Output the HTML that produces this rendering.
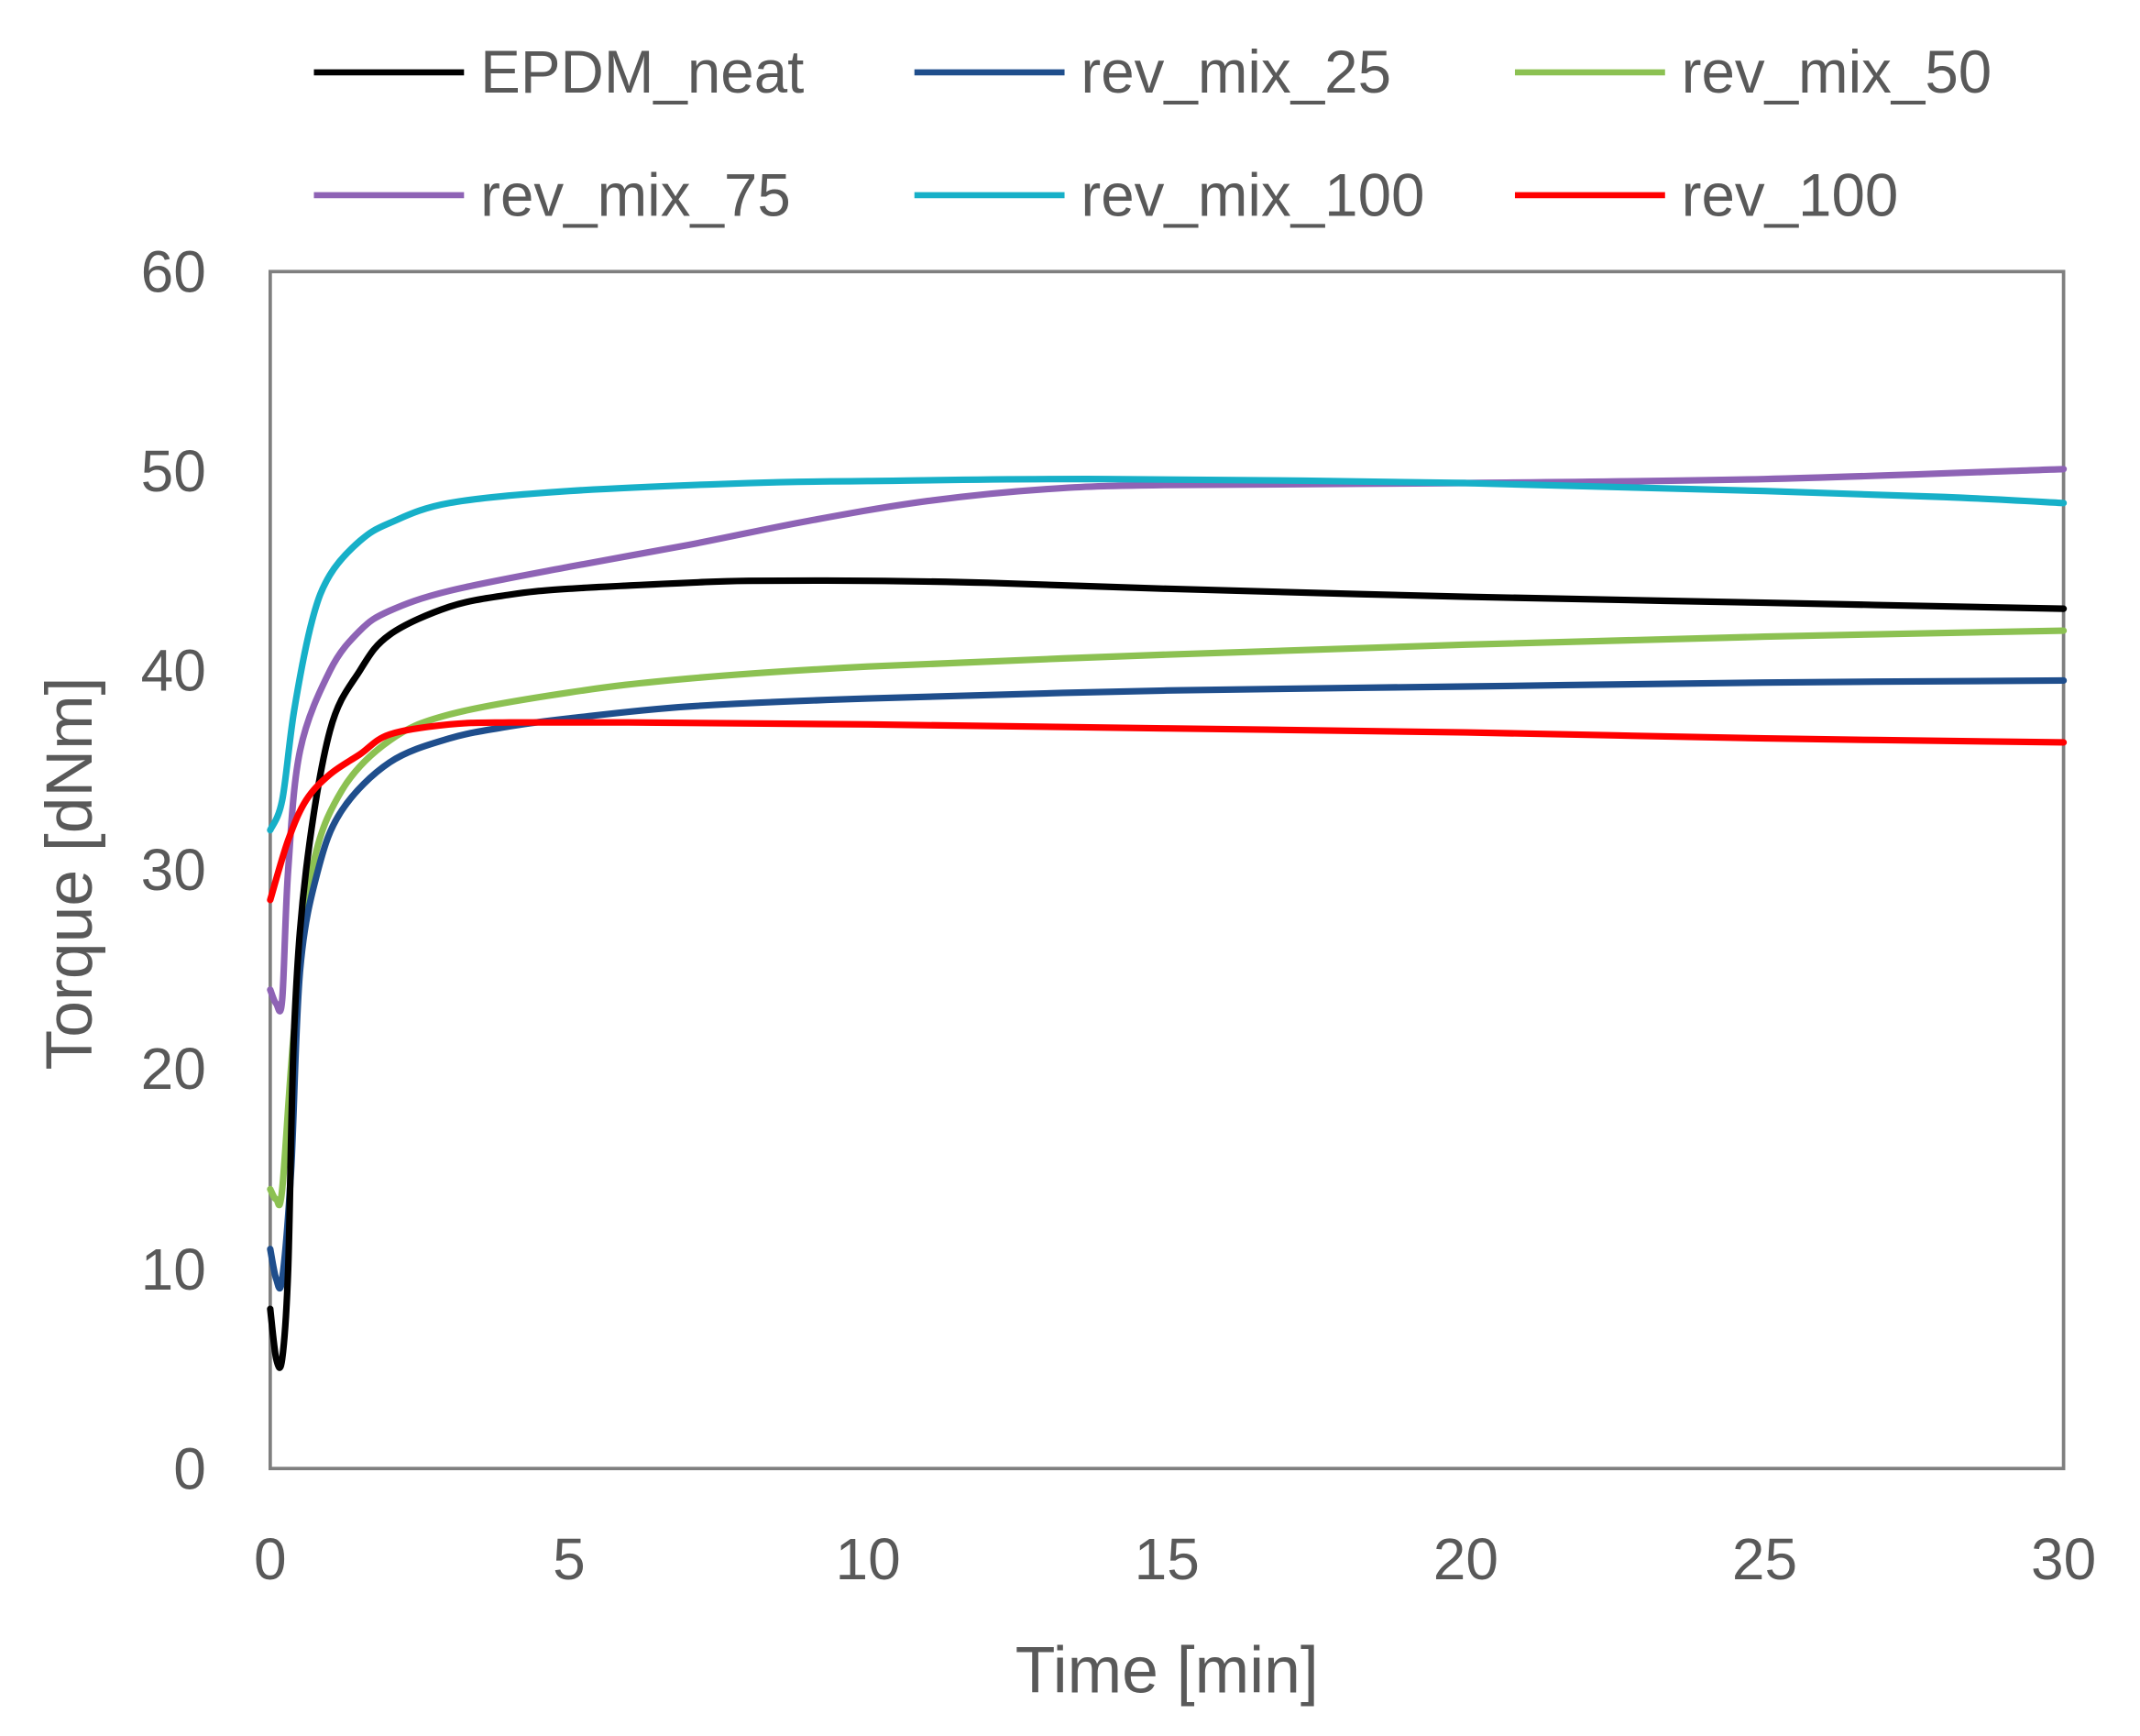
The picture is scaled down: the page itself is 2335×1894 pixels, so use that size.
<!DOCTYPE html>
<html><head><meta charset="utf-8"><style>
html,body{margin:0;padding:0;background:#fff;}
svg{display:block;}
text{font-family:"Liberation Sans",sans-serif;fill:#595959;}
</style></head><body>
<svg id="s" width="2335" height="1894" viewBox="0 0 1568 1272" preserveAspectRatio="none" xmlns="http://www.w3.org/2000/svg">
<rect x="0" y="0" width="1568" height="1272" fill="#fff"/>
<rect x="198" y="199" width="1314" height="877" fill="none" stroke="#7f7f7f" stroke-width="2.5"/>
<g font-size="43" text-anchor="end">
<text x="151" y="214">60</text><text x="151" y="360">50</text><text x="151" y="506">40</text>
<text x="151" y="652">30</text><text x="151" y="798">20</text><text x="151" y="945">10</text><text x="151" y="1091">0</text>
</g>
<g font-size="43" text-anchor="middle">
<text x="198" y="1157">0</text><text x="417" y="1157">5</text><text x="636" y="1157">10</text>
<text x="855" y="1157">15</text><text x="1074" y="1157">20</text><text x="1293" y="1157">25</text><text x="1512" y="1157">30</text>
</g>
<text x="855" y="1240" font-size="48" text-anchor="middle">Time [min]</text>
<text transform="translate(67,640) rotate(-90)" font-size="48" text-anchor="middle">Torque [dNm]</text>
<g font-size="44" stroke-width="4.5">
<line x1="230" y1="53" x2="340" y2="53" stroke="#000"/><text x="352" y="68">EPDM_neat</text>
<line x1="670" y1="53" x2="780" y2="53" stroke="#1f4e8c"/><text x="792" y="68">rev_mix_25</text>
<line x1="1110" y1="53" x2="1220" y2="53" stroke="#8cc152"/><text x="1232" y="68">rev_mix_50</text>
<line x1="230" y1="143" x2="340" y2="143" stroke="#8e63b5"/><text x="352" y="158">rev_mix_75</text>
<line x1="670" y1="143" x2="780" y2="143" stroke="#17b0c8"/><text x="792" y="158">rev_mix_100</text>
<line x1="1110" y1="143" x2="1220" y2="143" stroke="#ff0000"/><text x="1232" y="158">rev_100</text>
</g>
<g id="lines" fill="none" stroke-width="4.8" stroke-linejoin="round" stroke-linecap="round"></g>
</svg>
<script>
var S=[
["#8cc152",[[0,14],[0.1,13.5],[0.2,14],[0.4,22],[0.7,30],[1.2,34],[2,36.5],[3,37.8],[5,38.9],[7,39.6],[10,40.2],[15,40.8],[20,41.3],[25,41.7],[30,42]]],
["#1f4e8c",[[0,11],[0.1,9.5],[0.2,9.5],[0.35,15],[0.5,25],[0.8,30],[1.2,33],[2,35.4],[3,36.6],[4,37.2],[5,37.6],[7,38.2],[10,38.6],[15,39.0],[20,39.2],[25,39.4],[30,39.5]]],
["#000",[[0,8],[0.1,5.5],[0.2,5.5],[0.3,10],[0.4,22],[0.6,30],[1,37],[1.5,40],[2,41.8],[3,43.2],[4,43.8],[5,44.1],[7,44.4],[8,44.5],[10,44.5],[12,44.4],[15,44.1],[20,43.7],[25,43.4],[30,43.1]]],
["#8e63b5",[[0,24],[0.1,23.3],[0.2,23.5],[0.3,30],[0.5,36],[1,40],[1.5,42],[2,43],[3,44],[5,45.2],[7,46.3],[9,47.5],[11,48.5],[13,49.1],[15,49.3],[20,49.4],[25,49.6],[30,50.1]]],
["#17b0c8",[[0,32],[0.2,33.5],[0.4,38],[0.7,42.5],[1,44.8],[1.5,46.5],[2,47.4],[3,48.4],[5,49.0],[8,49.4],[10,49.5],[14,49.6],[20,49.4],[25,49.0],[28,48.7],[30,48.4]]],
["#ff0000",[[0,28.5],[0.3,31.5],[0.6,33.5],[1,34.8],[1.5,35.8],[2,36.8],[3,37.3],[4,37.4],[6,37.4],[10,37.3],[15,37.1],[20,36.9],[25,36.6],[30,36.4]]]
];
function X(t){return 198+t*1314/30;}function Y(v){return 1076-v*877/60;}
var g=document.getElementById('lines'),ns="http://www.w3.org/2000/svg";
S.forEach(function(s){var p=s[1].map(function(q){return [X(q[0]),Y(q[1])];});
var d="M"+p[0][0]+","+p[0][1];
for(var i=0;i<p.length-1;i++){var p0=p[i-1]||p[i],p1=p[i],p2=p[i+1],p3=p[i+2]||p2;
d+=" C"+(p1[0]+(p2[0]-p0[0])/6)+","+(p1[1]+(p2[1]-p0[1])/6)+" "+(p2[0]-(p3[0]-p1[0])/6)+","+(p2[1]-(p3[1]-p1[1])/6)+" "+p2[0]+","+p2[1];}
var e=document.createElementNS(ns,"path");e.setAttribute("d",d);e.setAttribute("stroke",s[0]);g.appendChild(e);});
</script>
</body></html>
